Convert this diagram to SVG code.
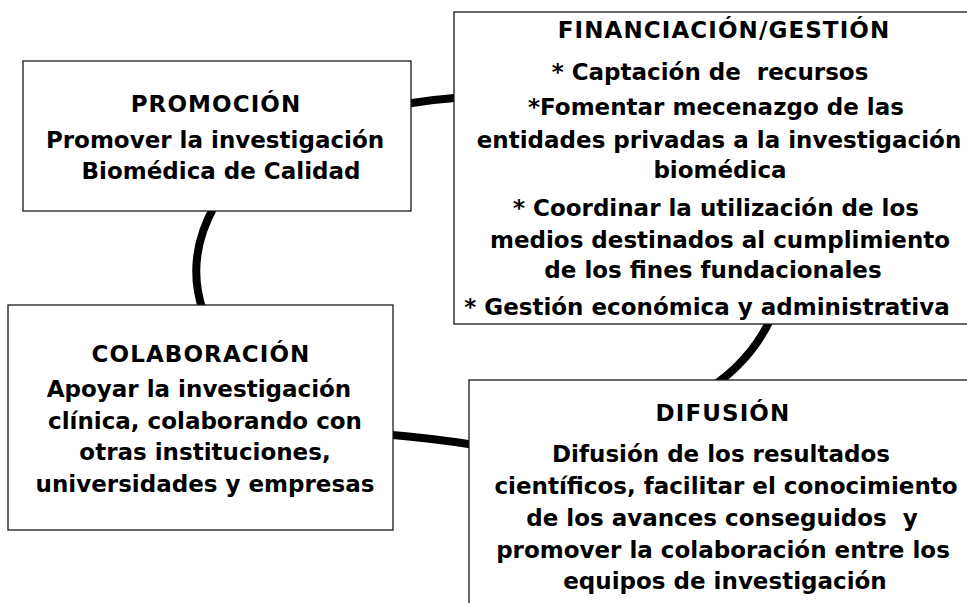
<svg xmlns="http://www.w3.org/2000/svg" width="967" height="603" viewBox="0 0 967 603">
<style>
.box{fill:#fff;stroke:#1a1a1a;stroke-width:1.3}
.conn{fill:none;stroke:#000;stroke-width:8;stroke-linecap:butt}
text{font-family:"DejaVu Sans","Noto Sans",sans-serif;font-weight:bold;font-size:23px;fill:#000;text-anchor:middle;white-space:pre}
.t{font-size:23px;letter-spacing:1.1px}
</style>
<rect width="967" height="603" fill="#fff"/>
<g id="connectors">
<path class="conn" d="M 405 104 Q 432 99.5 460 97.5"/>
<path class="conn" d="M 215 205 Q 185 258 203 311"/>
<path class="conn" d="M 387 434.5 Q 430 438 475 445"/>
<path class="conn" d="M 772 316 Q 752 360 710 388"/>
</g>
<g id="promocion">
<rect class="box" x="23" y="61" width="388" height="150"/>
<text class="t" x="216" y="112">PROMOCIÓN</text>
<text x="215" y="148">Promover la investigación</text>
<text x="221" y="179">Biomédica de Calidad</text>
</g>
<g id="financiacion">
<rect class="box" x="454" y="12" width="530" height="312"/>
<text class="t" x="724" y="38">FINANCIACIÓN/GESTIÓN</text>
<text x="710" y="80" xml:space="preserve">* Captación de  recursos</text>
<text x="716" y="115">*Fomentar mecenazgo de las</text>
<text x="719" y="148">entidades privadas a la investigación</text>
<text x="720" y="178">biomédica</text>
<text x="716" y="216">* Coordinar la utilización de los</text>
<text x="720" y="248">medios destinados al cumplimiento</text>
<text x="713" y="278">de los fines fundacionales</text>
<text x="707" y="315">* Gestión económica y administrativa</text>
</g>
<g id="colaboracion">
<rect class="box" x="8" y="305" width="385" height="225"/>
<text class="t" x="201" y="362">COLABORACIÓN</text>
<text x="199" y="397">Apoyar la investigación</text>
<text x="205" y="429">clínica, colaborando con</text>
<text x="205" y="460">otras instituciones,</text>
<text x="205" y="492">universidades y empresas</text>
</g>
<g id="difusion">
<rect class="box" x="469" y="380" width="520" height="240"/>
<text class="t" x="723" y="421">DIFUSIÓN</text>
<text x="721" y="462">Difusión de los resultados</text>
<text x="726" y="494">científicos, facilitar el conocimiento</text>
<text x="722" y="526" xml:space="preserve">de los avances conseguidos  y</text>
<text x="723" y="558">promover la colaboración entre los</text>
<text x="725" y="589">equipos de investigación</text>
</g>
</svg>
